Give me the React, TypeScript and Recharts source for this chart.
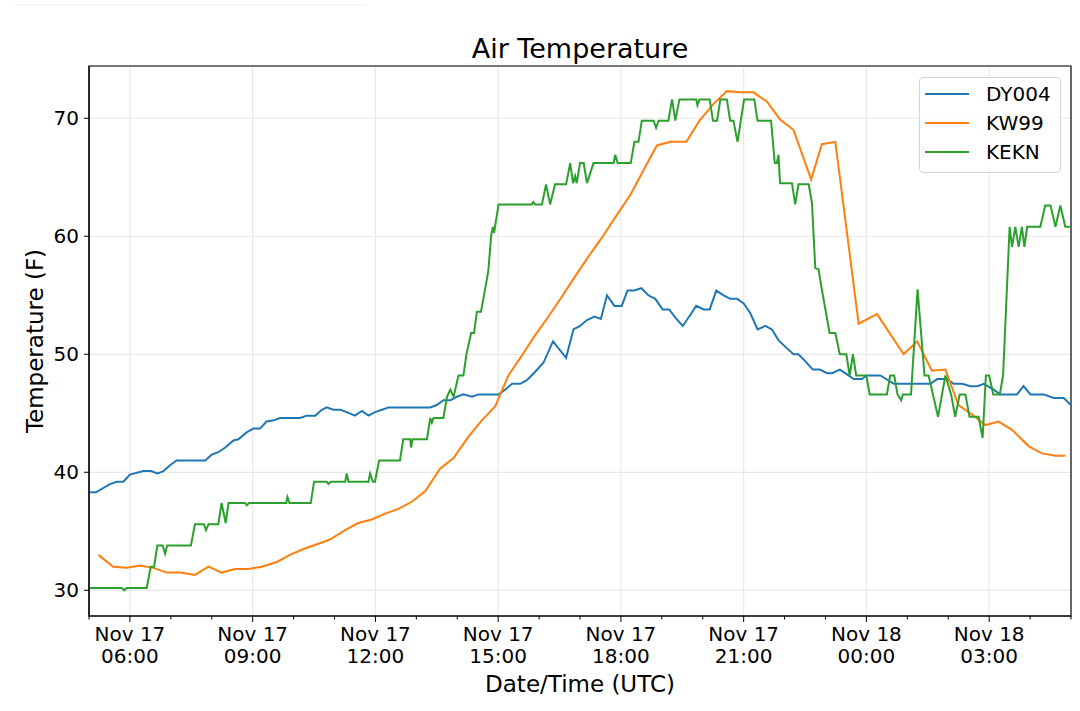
import React from "react"
import { LineChart, Line, XAxis, YAxis, CartesianGrid, Legend, ReferenceArea } from "recharts"

// hours since Nov 17 00:00 UTC
const dyTimes = [5.02, 5.17, 5.51, 5.68, 5.84, 6.00, 6.33, 6.51, 6.67, 6.82,
    6.98, 7.14, 7.84, 8.00, 8.16, 8.33, 8.53, 8.65, 8.86, 9.02,
    9.18, 9.34, 9.51, 9.67, 10.16, 10.32, 10.53, 10.69, 10.81, 10.97,
    11.14, 11.30, 11.50, 11.67, 11.83, 11.99, 12.16, 12.32, 13.34, 13.50,
    13.66, 13.83, 13.99, 14.15, 14.36, 14.52, 15.01, 15.17, 15.34, 15.54,
    15.70, 15.90, 16.11, 16.34, 16.66, 16.84, 17.00, 17.17, 17.35, 17.51,
    17.66, 17.84, 18.02, 18.16, 18.32, 18.50, 18.67, 18.84, 19.02, 19.18,
    19.33, 19.51, 19.67, 19.84, 20.02, 20.17, 20.33, 20.51, 20.67, 20.84,
    21.00, 21.16, 21.34, 21.53, 21.69, 21.85, 22.06, 22.22, 22.34, 22.51,
    22.69, 22.86, 23.04, 23.16, 23.35, 23.48, 23.69, 23.89, 24.01, 24.34,
    24.67, 25.56, 25.73, 25.97, 26.13, 26.34, 26.54, 26.71, 26.87, 27.11,
    27.27, 27.68, 27.84, 28.01, 28.33, 28.58, 28.82, 29.00]
const dyTemps = [38.3, 38.3, 39.0, 39.2, 39.2, 39.8, 40.1, 40.1, 39.9, 40.1,
    40.6, 41.0, 41.0, 41.5, 41.7, 42.1, 42.7, 42.8, 43.4, 43.7,
    43.7, 44.3, 44.4, 44.6, 44.6, 44.8, 44.8, 45.3, 45.5, 45.3,
    45.3, 45.1, 44.8, 45.2, 44.8, 45.1, 45.3, 45.5, 45.5, 45.7,
    46.1, 46.1, 46.4, 46.6, 46.4, 46.6, 46.6, 47.0, 47.5, 47.5,
    47.8, 48.5, 49.3, 51.1, 49.7, 52.1, 52.4, 52.9, 53.2, 53.0,
    55.0, 54.1, 54.1, 55.4, 55.4, 55.6, 55.0, 54.7, 53.8, 53.8,
    53.1, 52.4, 53.2, 54.1, 53.8, 53.8, 55.4, 55.0, 54.7, 54.7,
    54.3, 53.5, 52.1, 52.4, 52.1, 51.2, 50.5, 50.0, 50.0, 49.4,
    48.7, 48.7, 48.4, 48.4, 48.7, 48.4, 47.9, 47.9, 48.2, 48.2,
    47.5, 47.5, 47.9, 47.9, 47.5, 47.5, 47.3, 47.3, 47.5, 47.0,
    46.6, 46.6, 47.3, 46.6, 46.6, 46.3, 46.3, 45.7]

const kwTimes = [5.23, 5.59, 5.92, 6.25, 6.57, 6.90, 7.23, 7.59, 7.92, 8.24,
    8.57, 8.90, 9.22, 9.59, 9.91, 10.24, 10.57, 10.89, 11.26, 11.58,
    11.91, 12.24, 12.56, 12.89, 13.22, 13.58, 13.91, 14.27, 14.60, 14.93,
    15.25, 15.58, 15.90, 16.23, 16.56, 16.88, 17.21, 17.54, 17.86, 18.23,
    18.55, 18.88, 19.21, 19.60, 19.92, 20.26, 20.59, 20.92, 21.24, 21.57,
    21.89, 22.22, 22.65, 22.91, 23.24, 23.81, 24.26, 24.91, 25.24, 25.60,
    25.93, 26.25, 26.58, 26.91, 27.23, 27.56, 27.97, 28.29, 28.62, 28.86]
const kwTemps = [33.0, 32.0, 31.9, 32.1, 31.9, 31.5, 31.5, 31.3, 32.0, 31.5,
    31.8, 31.8, 32.0, 32.4, 33.0, 33.5, 33.9, 34.3, 35.1, 35.7,
    36.0, 36.5, 36.9, 37.5, 38.4, 40.3, 41.2, 43.0, 44.4, 45.6,
    48.2, 49.9, 51.6, 53.2, 54.9, 56.6, 58.3, 59.9, 61.6, 63.5,
    65.6, 67.7, 68.0, 68.0, 69.8, 71.2, 72.3, 72.2, 72.2, 71.4,
    69.9, 69.0, 64.8, 67.8, 68.0, 52.6, 53.4, 50.0, 51.1, 48.6,
    48.7, 45.7, 44.9, 44.0, 44.3, 43.6, 42.2, 41.6, 41.4, 41.4]

const keTimes = [5.02, 5.80, 5.86, 5.92, 6.41, 6.51, 6.59, 6.67, 6.80, 6.86,
    6.91, 7.49, 7.59, 7.81, 7.86, 7.92, 8.16, 8.24, 8.34, 8.41,
    8.81, 8.86, 8.91, 9.82, 9.85, 9.90, 10.42, 10.50, 10.81, 10.85,
    10.91, 11.26, 11.30, 11.34, 11.83, 11.87, 11.94, 11.99, 12.09, 12.60,
    12.68, 12.85, 12.87, 12.91, 13.26, 13.34, 13.38, 13.42, 13.66, 13.75,
    13.83, 13.91, 14.03, 14.15, 14.23, 14.34, 14.41, 14.48, 14.58, 14.68,
    14.76, 14.83, 14.87, 14.90, 15.01, 15.82, 15.86, 15.90, 16.07, 16.17,
    16.27, 16.39, 16.66, 16.76, 16.83, 16.88, 16.92, 17.00, 17.09, 17.17,
    17.33, 17.82, 17.86, 17.92, 18.24, 18.33, 18.43, 18.51, 18.80, 18.86,
    18.92, 19.16, 19.25, 19.33, 19.43, 19.84, 19.87, 19.92, 20.17, 20.25,
    20.35, 20.43, 20.59, 20.67, 20.75, 20.85, 21.01, 21.26, 21.34, 21.67,
    21.76, 21.81, 21.85, 21.89, 22.18, 22.26, 22.34, 22.59, 22.67, 22.75,
    22.83, 22.91, 23.10, 23.24, 23.35, 23.51, 23.59, 23.67, 23.75, 24.00,
    24.08, 24.50, 24.58, 24.68, 24.76, 24.85, 24.89, 25.09, 25.25, 25.42,
    25.52, 25.75, 25.93, 26.07, 26.17, 26.28, 26.42, 26.52, 26.74, 26.84,
    26.92, 27.00, 27.10, 27.26, 27.34, 27.50, 27.56, 27.64, 27.72, 27.80,
    27.86, 27.93, 28.25, 28.37, 28.50, 28.62, 28.74, 28.86, 29.00]
const keTemps = [30.2, 30.2, 30.0, 30.2, 30.2, 32.0, 32.0, 33.8, 33.8, 33.1,
    33.8, 33.8, 35.6, 35.6, 35.1, 35.6, 35.6, 37.4, 35.7, 37.4,
    37.4, 37.2, 37.4, 37.4, 37.9, 37.4, 37.4, 39.2, 39.2, 39.0,
    39.2, 39.2, 39.9, 39.2, 39.2, 39.9, 39.2, 39.2, 41.0, 41.0,
    42.8, 42.8, 42.1, 42.8, 42.8, 44.6, 44.2, 44.6, 44.6, 46.4,
    47.0, 46.4, 48.2, 48.2, 50.1, 51.8, 51.8, 53.6, 53.6, 55.5,
    57.1, 60.1, 60.8, 60.3, 62.7, 62.7, 62.9, 62.7, 62.7, 64.4,
    62.7, 64.4, 64.4, 66.2, 64.5, 65.1, 64.5, 66.2, 66.2, 64.5,
    66.2, 66.2, 66.9, 66.2, 66.2, 68.0, 68.0, 69.8, 69.8, 69.2,
    69.8, 69.8, 71.6, 69.8, 71.6, 71.6, 71.1, 71.6, 71.6, 69.8,
    69.8, 71.6, 71.6, 69.8, 69.8, 68.0, 71.6, 71.6, 69.8, 69.8,
    66.2, 66.2, 66.9, 64.5, 64.5, 62.7, 64.4, 64.4, 62.8, 57.3,
    57.2, 55.5, 51.8, 51.8, 50.0, 50.0, 48.2, 50.0, 48.2, 48.2,
    46.6, 46.6, 48.2, 48.2, 46.6, 46.1, 46.6, 46.6, 55.5, 48.2,
    48.2, 44.7, 48.2, 46.6, 44.7, 46.6, 46.6, 44.7, 44.7, 42.9,
    48.2, 48.2, 46.6, 46.6, 48.2, 60.8, 59.1, 60.8, 59.1, 60.8,
    59.1, 60.8, 60.8, 62.6, 62.6, 60.8, 62.6, 60.8, 60.8]

const majorHours = [6, 9, 12, 15, 18, 21, 24, 27]
const dayLabels = ["Nov 17", "Nov 17", "Nov 17", "Nov 17", "Nov 17", "Nov 17", "Nov 18", "Nov 18"]
const timeLabels = ["06:00", "09:00", "12:00", "15:00", "18:00", "21:00", "00:00", "03:00"]
const allHours = Array.from({ length: 25 }, (_, i) => 5 + i)
const tempTicks = [30, 40, 50, 60, 70]

const zip = (ts: number[], vs: number[]) => ts.map((t, i) => ({ t, v: vs[i] }))

const series = [
    { name: "DY004", color: "#1f77b4", data: zip(dyTimes, dyTemps) },
    { name: "KW99", color: "#ff7f0e", data: zip(kwTimes, kwTemps) },
    { name: "KEKN", color: "#2ca02c", data: zip(keTimes, keTemps) },
]
const seriesOrder = series.map((s) => s.name)

const X_MIN = 5
const X_MAX = 29
const Y_MIN = 27.82
const Y_MAX = 74.43
const FONT = "'DejaVu Sans', sans-serif"

function HourTick(props: any) {
    const { x, y, payload } = props
    const i = majorHours.indexOf(payload.value)
    if (i < 0) {
        return <line x1={x} x2={x} y1={y} y2={y + 3.5} stroke="#000" strokeWidth={1} />
    }
    return (
        <g>
            <line x1={x} x2={x} y1={y} y2={y + 6} stroke="#000" strokeWidth={1} />
            <text x={x} y={y} textAnchor="middle" fontSize={20} fill="#000" fontFamily={FONT}>
                <tspan x={x} dy={24.7}>{dayLabels[i]}</tspan>
                <tspan x={x} dy={22.6}>{timeLabels[i]}</tspan>
            </text>
        </g>
    )
}

function LegendBox({ payload }: any) {
    const raw = payload && payload.length ? payload : series.map((s) => ({ value: s.name, color: s.color }))
    // keep the plotting order, not the alphabetical one
    const items = [...raw].sort((a: any, b: any) => seriesOrder.indexOf(a.value) - seriesOrder.indexOf(b.value))
    return (
        <div style={{
            position: "relative", width: 142, height: 96, boxSizing: "border-box",
            border: "1px solid #d5d5d5", borderRadius: 4, background: "rgba(255,255,255,0.8)",
            fontFamily: FONT, fontSize: 20, color: "#000",
        }}>
            {items.map((item: any, i: number) => (
                <div key={item.value} style={{ position: "absolute", left: 0, top: 1.6 + i * 29.3, height: 28, lineHeight: "28px", whiteSpace: "nowrap" }}>
                    <svg width={60} height={28} style={{ position: "absolute", left: 0, top: 0 }}>
                        <line x1={5} x2={49} y1={14} y2={14} stroke={item.color} strokeWidth={2} />
                    </svg>
                    <span style={{ position: "absolute", left: 66, top: 0 }}>{item.value}</span>
                </div>
            ))}
        </div>
    )
}

export default function App() {
    return (
        <div style={{ position: "absolute", left: 0, top: 0, width: 1080, height: 711, background: "#fff", fontFamily: FONT }}>
            <LineChart width={1080} height={711} margin={{ top: 66, right: 9, bottom: 0, left: 0 }}>
                <CartesianGrid
                    stroke="#e8e8e8"
                    strokeWidth={1.2}
                    verticalCoordinatesGenerator={({ xAxis, offset }: any) =>
                        majorHours.map((h) =>
                            xAxis && typeof xAxis.scale === "function"
                                ? xAxis.scale(h)
                                : offset.left + ((h - X_MIN) / (X_MAX - X_MIN)) * offset.width
                        )
                    }
                />
                <XAxis
                    type="number"
                    dataKey="t"
                    domain={[X_MIN, X_MAX]}
                    ticks={allHours}
                    interval={0}
                    allowDataOverflow
                    height={95}
                    tickSize={0}
                    tickMargin={0}
                    tickLine={false}
                    axisLine={{ stroke: "#000", strokeWidth: 1.2 }}
                    tick={(p: any) => <HourTick {...p} />}
                />
                <YAxis
                    type="number"
                    domain={[Y_MIN, Y_MAX]}
                    ticks={tempTicks}
                    allowDataOverflow
                    width={89}
                    tickSize={5}
                    tickMargin={5}
                    stroke="#000"
                    axisLine={{ stroke: "#000", strokeWidth: 1.2 }}
                    tick={{ fill: "#000", fontSize: 20, fontFamily: FONT }}
                />
                <ReferenceArea x1={X_MIN} x2={X_MAX} y1={Y_MIN} y2={Y_MAX} fill="none" stroke="#000" strokeWidth={1.2} />
                {series.map((s) => (
                    <Line
                        key={s.name}
                        name={s.name}
                        data={s.data}
                        dataKey="v"
                        type="linear"
                        stroke={s.color}
                        strokeWidth={2}
                        dot={false}
                        activeDot={false}
                        isAnimationActive={false}
                    />
                ))}
                <Legend
                    layout="vertical"
                    align="center"
                    verticalAlign="middle"
                    wrapperStyle={{ left: 919, top: 77, width: 142, height: 96 }}
                    content={(props: any) => <LegendBox payload={props.payload} />}
                />
            </LineChart>
            <svg width={1080} height={711} style={{ position: "absolute", left: 0, top: 0, pointerEvents: "none" }}>
                <line x1={15} x2={366} y1={5} y2={5} stroke="#efefef" strokeWidth={1} />
                <text x={580} y={57.7} textAnchor="middle" fontSize={27} fill="#000" fontFamily={FONT}>Air Temperature</text>
                <text x={580} y={691.7} textAnchor="middle" fontSize={23} fill="#000" fontFamily={FONT}>Date/Time (UTC)</text>
                <text transform="translate(42.7 341) rotate(-90)" textAnchor="middle" fontSize={23} fill="#000" fontFamily={FONT}>Temperature (F)</text>
            </svg>
        </div>
    )
}
